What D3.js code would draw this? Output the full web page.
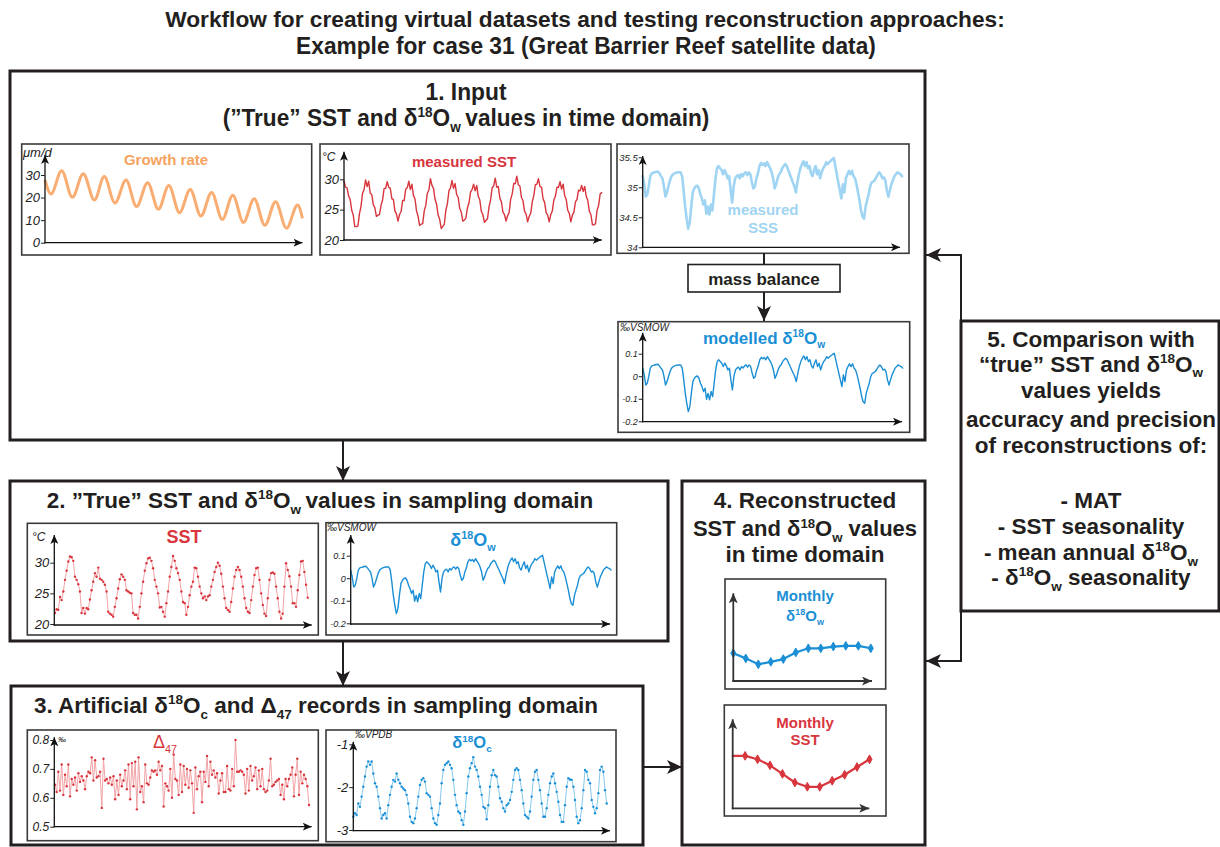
<!DOCTYPE html>
<html>
<head>
<meta charset="utf-8">
<script src="https://cdn.jsdelivr.net/npm/d3@7"></script>
<style>
  body { margin: 0; background: #fff; }
  svg { display: block; }
  text { font-family: "Liberation Sans", Arial, Helvetica, sans-serif; }
</style>
</head>
<body>
<div id="chart"></div>
<script>
// ---- data ----

// growth rate (um/d): extrema of the seasonal cycle, time in years
var growthTime = [0, 0.28, 0.78, 1.28, 1.79, 2.31, 2.77, 3.27, 3.79, 4.28, 4.80, 5.30, 5.79,
  6.29, 6.79, 7.29, 7.79, 8.29, 8.78, 9.28, 9.78, 10.28, 10.78, 11.29, 11.81, 12.04];
var growthRate = [27.8, 21.6, 31.9, 20.1, 30.6, 18.9, 29.3, 17.6, 27.8, 16.0, 26.6, 14.8, 25.3,
  13.3, 23.6, 11.8, 22.3, 10.3, 21.0, 9.0, 19.5, 7.7, 18.2, 6.4, 16.7, 10.8];
var growthTicks = [0, 10, 20, 30];

// measured SST (degC), time domain
var sstMeasured = [
  29.7, 28.7, 28.6, 27.2, 26.7, 24.9, 24.1, 22.2, 22.2, 22.3, 24.3, 25.5, 27.7, 28.3,
  29.9, 28.8, 29.7, 27.7, 27.5, 25.8, 25.3, 23.9, 24.1, 24.2, 25.7, 26.6, 28.5, 28.5,
  29.6, 28.7, 28.5, 26.8, 26.7, 24.8, 24.3, 23.1, 24.2, 24.7, 26.5, 26.5, 28.4, 28.6,
  29.7, 28.3, 29.2, 27.3, 26.8, 24.8, 23.9, 22.4, 22.6, 22.7, 24.8, 25.7, 27.7, 28.2,
  30.1, 29.0, 28.5, 26.7, 25.9, 24.1, 23.4, 21.9, 22.2, 22.6, 24.9, 26.0, 28.1, 28.6,
  29.8, 28.5, 29.3, 27.5, 27.0, 25.2, 24.6, 23.1, 23.3, 23.6, 25.3, 26.1, 27.9, 28.3,
  29.2, 28.1, 29.0, 27.2, 26.6, 24.7, 24.2, 22.9, 23.2, 23.5, 25.5, 26.6, 28.6, 28.9,
  30.2, 28.7, 28.8, 26.9, 26.3, 24.6, 24.2, 23.1, 24.0, 24.5, 26.7, 27.6, 29.3, 29.3,
  30.5, 29.1, 28.9, 27.0, 26.5, 24.7, 24.3, 23.0, 23.9, 24.4, 26.3, 27.3, 29.1, 29.2,
  30.1, 28.8, 28.7, 26.8, 26.2, 24.5, 24.1, 23.0, 24.2, 24.8, 26.6, 27.2, 28.7, 28.7,
  29.6, 28.4, 29.2, 27.3, 26.7, 24.9, 24.4, 23.0, 24.1, 24.6, 26.3, 26.7, 28.2, 28.1,
  29.0, 28.0, 28.8, 27.2, 26.5, 24.7, 24.2, 22.5, 22.5, 22.7, 24.9, 25.7, 27.6, 27.8];
var sstTicks = [20, 25, 30];

// modelled d18Ow (permil VSMOW)
var d18OwValues = [
  0.036, 0.006, -0.039, -0.031, -0.001, 0.036, 0.046, 0.048, 0.050, 0.052, 0.053, 0.046, 0.036,
  0.028, -0.001, -0.039, -0.024, -0.001, 0.021, 0.036, 0.042, 0.046, 0.048, 0.050, 0.050, 0.050,
  0.036, -0.016, -0.076, -0.120, -0.157, -0.135, -0.076, -0.024, -0.009, -0.001, 0.001, -0.009,
  -0.031, -0.046, -0.068, -0.053, -0.102, -0.076, -0.105, -0.068, -0.090, -0.031, 0.028, 0.065,
  0.073, 0.065, 0.058, 0.043, 0.058, 0.046, 0.028, 0.036, -0.016, -0.061, -0.001, 0.028, 0.036,
  0.040, 0.028, 0.043, 0.036, 0.046, 0.050, 0.040, 0.050, 0.043, 0.013, -0.009, -0.001, 0.028,
  0.046, 0.073, 0.084, 0.077, 0.083, 0.073, 0.087, 0.076, 0.065, 0.050, 0.028, -0.009, 0.006,
  0.028, 0.043, 0.050, 0.065, 0.073, 0.080, 0.073, 0.058, 0.043, 0.028, 0.013, -0.001, -0.024,
  0.013, 0.043, 0.065, 0.080, 0.090, 0.073, 0.087, 0.065, 0.073, 0.046, 0.036, 0.058, 0.073,
  0.043, 0.058, 0.028, 0.050, 0.065, 0.073, 0.087, 0.080, 0.087, 0.092, 0.098, 0.102, 0.073,
  0.043, 0.013, -0.016, -0.046, 0.006, -0.024, 0.028, 0.043, 0.055, 0.043, 0.055, 0.036, 0.028,
  0.006, -0.024, -0.053, -0.090, -0.113, -0.120, -0.076, -0.053, -0.031, -0.001, 0.013, 0.016,
  0.021, 0.031, 0.043, 0.050, 0.043, 0.028, 0.031, 0.021, -0.016, -0.039, -0.016, 0.006, 0.021,
  0.036, 0.043, 0.050, 0.046, 0.043, 0.036];
var d18OwTicks = [-0.2, -0.1, 0, 0.1];

// mass balance link between SSS and d18Ow (permil per psu)
var massBalanceSlope = 0.22;
var massBalanceOffset = -0.005;
var sssValues = d18OwValues.map(function (d) { return 35 + (d - massBalanceOffset) / massBalanceSlope; });
var sssTicks = [34, 34.5, 35, 35.5];

// "true" SST in sampling domain (degC)
var sstSampled = [21.8, 22.4, 22.3, 24.4, 23.9, 25.3, 27.2, 28.7, 30.2, 31.0, 30.9, 30.3, 27.7,
  27.2, 26.5, 25.3, 21.8, 22.6, 21.7, 22.6, 22.4, 24.0, 25.5, 26.9, 28.3, 27.7, 29.2, 27.4, 27.2,
  26.9, 26.4, 25.3, 22.0, 21.7, 21.5, 21.2, 22.8, 24.2, 25.8, 27.3, 28.1, 27.7, 27.2, 25.5, 25.3,
  25.1, 25.0, 21.8, 21.5, 21.5, 20.9, 22.8, 25.0, 26.9, 28.7, 29.9, 30.7, 30.8, 30.3, 29.1, 27.2,
  26.1, 25.0, 22.7, 22.8, 22.0, 21.2, 23.4, 25.3, 27.7, 29.3, 31.1, 30.3, 29.1, 28.3, 27.2, 25.3,
  23.6, 23.4, 21.5, 22.8, 24.7, 26.1, 26.9, 29.2, 29.1, 27.7, 26.1, 25.0, 24.2, 24.5, 23.9, 24.5,
  24.7, 26.1, 27.2, 28.5, 29.3, 30.0, 29.5, 28.2, 26.1, 24.2, 22.6, 22.3, 22.0, 23.6, 25.8, 27.7,
  28.8, 29.3, 28.8, 27.7, 26.1, 24.2, 22.6, 22.0, 21.8, 23.9, 26.1, 28.0, 29.1, 29.2, 27.2, 25.0,
  23.1, 21.7, 21.3, 24.2, 27.2, 28.3, 28.4, 28.2, 26.1, 24.2, 22.0, 20.9, 21.7, 26.1, 29.9, 28.8,
  27.8, 26.1, 23.4, 23.4, 22.8, 25.5, 28.0, 30.2, 30.3, 28.5, 26.4, 24.3];

// artificial clumped isotope record (permil)
var d47Values = [0.645, 0.62, 0.69, 0.625, 0.715, 0.61, 0.68, 0.64, 0.715, 0.605, 0.665, 0.645,
  0.67, 0.625, 0.685, 0.655, 0.675, 0.66, 0.63, 0.675, 0.69, 0.685, 0.74, 0.66, 0.73, 0.67, 0.675,
  0.69, 0.565, 0.735, 0.66, 0.665, 0.65, 0.67, 0.645, 0.675, 0.595, 0.66, 0.61, 0.68, 0.64, 0.66,
  0.695, 0.63, 0.715, 0.595, 0.72, 0.64, 0.725, 0.56, 0.74, 0.62, 0.64, 0.585, 0.715, 0.65, 0.645,
  0.67, 0.695, 0.69, 0.695, 0.68, 0.725, 0.695, 0.71, 0.57, 0.65, 0.64, 0.625, 0.70, 0.60, 0.75,
  0.665, 0.66, 0.61, 0.715, 0.62, 0.71, 0.645, 0.70, 0.635, 0.695, 0.65, 0.548, 0.705, 0.63, 0.675,
  0.69, 0.585, 0.69, 0.655, 0.745, 0.64, 0.725, 0.68, 0.695, 0.67, 0.685, 0.615, 0.66, 0.685,
  0.62, 0.62, 0.71, 0.63, 0.625, 0.70, 0.64, 0.80, 0.69, 0.69, 0.695, 0.69, 0.68, 0.615, 0.70,
  0.625, 0.71, 0.66, 0.675, 0.705, 0.63, 0.695, 0.64, 0.70, 0.63, 0.62, 0.625, 0.66, 0.735, 0.64,
  0.645, 0.655, 0.66, 0.665, 0.61, 0.645, 0.595, 0.665, 0.64, 0.665, 0.68, 0.705, 0.605, 0.68,
  0.735, 0.61, 0.69, 0.65, 0.68, 0.665, 0.64, 0.575];
var d47Ticks = [0.5, 0.6, 0.7, 0.8];

// artificial d18Oc record (permil VPDB)
var d18OcValues = [-2.69, -2.61, -2.65, -2.38, -2.46, -2.22, -1.99, -1.75, -1.52, -1.40, -1.48,
  -1.40, -1.68, -1.91, -1.99, -2.22, -2.49, -2.73, -2.65, -2.61, -2.73, -2.42, -2.18, -1.99, -1.83,
  -1.87, -1.68, -1.83, -1.91, -1.99, -2.03, -2.07, -2.18, -2.38, -2.69, -2.81, -2.84, -2.73, -2.49,
  -2.22, -1.95, -1.83, -1.79, -1.87, -2.14, -2.18, -2.22, -2.49, -2.73, -2.84, -2.88, -2.65, -2.38,
  -1.91, -1.60, -1.48, -1.44, -1.40, -1.48, -1.56, -1.83, -2.18, -2.42, -2.57, -2.61, -2.77, -2.88,
  -2.57, -2.14, -1.75, -1.56, -1.44, -1.30, -1.52, -1.60, -1.75, -1.99, -2.18, -2.46, -2.49, -2.75,
  -2.42, -1.99, -1.72, -1.60, -1.72, -1.75, -1.99, -2.26, -2.34, -2.49, -2.57, -2.42, -2.38, -2.30,
  -2.11, -1.83, -1.60, -1.56, -1.60, -1.83, -2.07, -2.38, -2.65, -2.69, -2.73, -2.57, -2.22, -1.83,
  -1.64, -1.60, -1.83, -2.07, -2.38, -2.69, -2.69, -2.49, -2.18, -1.91, -1.75, -1.68, -1.91, -2.11,
  -2.34, -2.65, -2.81, -2.81, -2.42, -1.99, -1.79, -1.82, -1.83, -1.99, -2.30, -2.69, -2.84, -2.77,
  -2.49, -2.07, -1.60, -1.64, -1.83, -1.91, -2.30, -2.46, -2.61, -2.49, -2.14, -1.60, -1.52, -1.64,
  -2.07, -2.38];
var d18OcTicks = [-3, -2, -1];

// reconstructed monthly values
var monthlyD18Ow = [-0.070, -0.085, -0.102, -0.095, -0.087, -0.068, -0.056, -0.056, -0.051, -0.049, -0.049, -0.056];
var monthlySST = [26.1, 26.1, 25.7, 25.0, 24.0, 23.0, 22.5, 22.5, 23.2, 23.9, 24.8, 25.7];

// ---- drawing ----
var W = 1220, H = 847;
var ink = "#231f20";
var orange = "#f9ad72", red = "#d8353d", pink = "#f2a3a6", skyBlue = "#9fd4f2",
    blue = "#1b8fd5", paleBlue = "#86c8ee";
var narrow = "'Liberation Sans Narrow', 'Arial Narrow', 'DejaVu Sans Condensed', 'Liberation Sans', sans-serif";

var svg = d3.select("#chart").append("svg").attr("width", W).attr("height", H);
var defs = svg.append("defs");

function addMarker(id, w, h, color) {
  defs.append("marker").attr("id", id)
    .attr("viewBox", "0 0 10 10").attr("refX", 10).attr("refY", 5)
    .attr("markerUnits", "userSpaceOnUse")
    .attr("markerWidth", w).attr("markerHeight", h)
    .attr("preserveAspectRatio", "none")
    .attr("orient", "auto")
    .append("path").attr("d", "M0,0L10,5L0,10L2.5,5Z").attr("fill", color);
}
addMarker("arrowS", 9, 8, "#111");
addMarker("arrowM", 10, 9, "#333");
addMarker("arrowL", 15, 14, ink);

// text with super/subscripts; optional horizontal fit to a width
function rich(g, x, y, parts, o) {
  var fs = o.size;
  var t = g.append("text").attr("x", x).attr("y", y)
    .attr("font-size", fs)
    .attr("font-weight", o.weight || "bold")
    .attr("font-style", o.style || "normal")
    .attr("fill", o.fill || ink)
    .attr("text-anchor", o.anchor || "middle");
  if (o.family) t.attr("font-family", o.family);
  var shift = 0;
  parts.forEach(function (p) {
    var s, dy, size = fs;
    if (typeof p === "string") { s = p; dy = -shift; shift = 0; }
    else if (p.sup !== undefined) { s = p.sup; dy = -fs * 0.38 - shift; shift = -fs * 0.38; size = fs * 0.6; }
    else { s = p.sub; dy = fs * 0.26 - shift; shift = fs * 0.26; size = fs * 0.6; }
    var ts = t.append("tspan").text(s).attr("font-size", size);
    if (dy) ts.attr("dy", dy);
  });
  if (o.width) {
    var len = t.node().getComputedTextLength();
    var k = o.width / len;
    t.attr("transform", "translate(" + x + "," + y + ") scale(" + k + ",1) translate(" + (-x) + "," + (-y) + ")");
  }
  return t;
}

function box(x, y, w, h, sw) {
  svg.append("rect").attr("x", x).attr("y", y).attr("width", w).attr("height", h)
    .attr("fill", "none").attr("stroke", ink).attr("stroke-width", sw || 3);
}

function arrowLine(x1, y1, x2, y2) {
  svg.append("line").attr("x1", x1).attr("y1", y1).attr("x2", x2).attr("y2", y2)
    .attr("stroke", ink).attr("stroke-width", 2).attr("marker-end", "url(#arrowL)");
}

// panel frame + axes; data drawn by callback between frame and axes
function panel(p, drawData) {
  var g = svg.append("g");
  g.append("rect").attr("x", p.left).attr("y", p.top).attr("width", p.w).attr("height", p.h)
    .attr("fill", "#fff").attr("stroke", "#3a3a3a").attr("stroke-width", 1.6);
  if (drawData) drawData(g);
  var aw = p.axisW || 1.3, mk = p.mk || "arrowS", col = p.axisCol || "#111";
  g.append("line").attr("x1", p.ox).attr("y1", p.oy + aw / 2).attr("x2", p.ox).attr("y2", p.yTip)
    .attr("stroke", col).attr("stroke-width", aw).attr("marker-end", "url(#" + mk + ")");
  g.append("line").attr("x1", p.ox - aw / 2).attr("y1", p.oy).attr("x2", p.xTip).attr("y2", p.oy)
    .attr("stroke", col).attr("stroke-width", aw).attr("marker-end", "url(#" + mk + ")");
  if (p.y && p.ticks) {
    var ax = d3.axisLeft(p.y).tickValues(p.ticks).tickSize(4).tickPadding(1)
      .tickFormat(p.fmt || function (d) { return String(d); });
    var a = g.append("g").attr("transform", "translate(" + p.ox + ",0)").call(ax);
    a.select(".domain").remove();
    a.selectAll("line").attr("stroke", "#222").attr("stroke-width", 1);
    a.selectAll("text").attr("font-size", p.tickFont).attr("font-style", "italic")
      .attr("fill", "#222").attr("font-family", "'Liberation Sans', Arial, sans-serif");
  }
  if (p.unit) {
    g.append("text").attr("x", p.unit[0]).attr("y", p.unit[1]).text(p.unit[2])
      .attr("font-size", p.unit[3]).attr("font-style", "italic").attr("fill", "#222");
  }
  return g;
}

function linePath(g, data, x, y, color, width, curve) {
  g.append("path").datum(data)
    .attr("d", d3.line().x(function (d, i) { return x(i); }).y(function (d) { return y(d); }).curve(curve || d3.curveLinear))
    .attr("fill", "none").attr("stroke", color).attr("stroke-width", width)
    .attr("stroke-linejoin", "round").attr("stroke-linecap", "round");
}

function dots(g, data, x, y, color, r) {
  g.selectAll(null).data(data).enter().append("circle")
    .attr("cx", function (d, i) { return x(i); }).attr("cy", function (d) { return y(d); })
    .attr("r", r).attr("fill", color);
}

// ---- title ----
rich(svg, 585, 27, ["Workflow for creating virtual datasets and testing reconstruction approaches:"], { size: 23, width: 840, family: narrow });
rich(svg, 586, 54, ["Example for case 31 (Great Barrier Reef satellite data)"], { size: 23, width: 580, family: narrow });

// ---- box 1 ----
box(10, 71, 915, 369);
rich(svg, 466, 100, ["1. Input"], { size: 23, width: 81, family: narrow });
rich(svg, 466, 126, ["(\u201DTrue\u201D SST and \u03B4", { sup: "18" }, "O", { sub: "w" }, "\u2009values in time domain)"], { size: 23, width: 487, family: narrow });

// growth rate
(function () {
  var p = { left: 21.7, top: 144, w: 290, h: 111, ox: 45, oy: 242.7, xTip: 302.5, yTip: 155 };
  p.y = d3.scaleLinear().domain([0, 30]).range([242.7, 175]);
  p.ticks = growthTicks; p.tickFont = 13;
  p.unit = [23, 157, "\u03BCm/d", 13];
  var x = d3.scaleLinear().domain([0, d3.max(growthTime)]).range([45, 302.5]);
  panel(p, function (g) {
    g.append("path").datum(growthRate)
      .attr("d", d3.line().x(function (d, i) { return x(growthTime[i]); }).y(function (d) { return p.y(d); }).curve(d3.curveMonotoneX))
      .attr("fill", "none").attr("stroke", orange).attr("stroke-width", 3);
    rich(g, 166, 165, ["Growth rate"], { size: 15, fill: "#f7a360" });
  });
})();

// measured SST
(function () {
  var p = { left: 320, top: 144, w: 291, h: 111, ox: 344, oy: 240, xTip: 601.7, yTip: 151.7 };
  p.y = d3.scaleLinear().domain([20, 30]).range([240, 179.3]);
  p.ticks = sstTicks; p.tickFont = 13;
  p.unit = [322, 161, "\u00B0C", 12];
  var x = d3.scaleLinear().domain([0, sstMeasured.length - 1]).range([344, 601.7]);
  panel(p, function (g) {
    linePath(g, sstMeasured, x, p.y, red, 1.4);
    rich(g, 464, 167, ["measured SST"], { size: 15, fill: red });
  });
})();

// measured SSS
(function () {
  var p = { left: 617, top: 144, w: 292, h: 109.3, ox: 642.7, oy: 247.3, xTip: 900, yTip: 156 };
  p.y = d3.scaleLinear().domain([34, 35.5]).range([247.3, 157.3]);
  p.ticks = sssTicks; p.tickFont = 9.5;
  var x = d3.scaleLinear().domain([0, sssValues.length - 1]).range([642.7, 902]);
  panel(p, function (g) {
    linePath(g, sssValues, x, p.y, skyBlue, 2.6);
    rich(g, 763, 215, ["measured"], { size: 15, fill: skyBlue });
    rich(g, 763, 233, ["SSS"], { size: 15, fill: skyBlue });
  });
})();

// mass balance
svg.append("line").attr("x1", 764).attr("y1", 253).attr("x2", 764).attr("y2", 265)
  .attr("stroke", ink).attr("stroke-width", 2);
svg.append("rect").attr("x", 688).attr("y", 264.5).attr("width", 152).attr("height", 27.5)
  .attr("fill", "#fff").attr("stroke", ink).attr("stroke-width", 1.6);
rich(svg, 764, 285, ["mass balance"], { size: 17 });
arrowLine(764, 292, 764, 321);

// modelled d18Ow
(function () {
  var p = { left: 618, top: 321.7, w: 291.7, h: 110.6, ox: 642.7, oy: 421.7, xTip: 902, yTip: 332.7 };
  p.y = d3.scaleLinear().domain([-0.2, 0.1]).range([421.3, 353.7]);
  p.ticks = d18OwTicks; p.tickFont = 9;
  p.unit = [620, 331, "\u2030VSMOW", 10];
  var x = d3.scaleLinear().domain([0, d18OwValues.length - 1]).range([642.7, 902.7]);
  panel(p, function (g) {
    linePath(g, d18OwValues, x, p.y, blue, 1.4);
    rich(g, 764, 343.5, ["modelled \u03B4", { sup: "18" }, "O", { sub: "w" }], { size: 17, fill: blue });
  });
})();

// ---- box 2 ----
arrowLine(343, 440, 343, 481);
box(10, 481, 658, 160);
rich(svg, 320, 508, ["2. \u201DTrue\u201D SST and \u03B4", { sup: "18" }, "O", { sub: "w" }, "\u2009values in sampling domain"], { size: 22.5 });

(function () {
  var p = { left: 27.3, top: 523.3, w: 291, h: 111.7, ox: 54.3, oy: 625, xTip: 311.7, yTip: 535 };
  p.y = d3.scaleLinear().domain([20, 30]).range([624, 562.7]);
  p.ticks = sstTicks; p.tickFont = 13;
  p.unit = [32, 541, "\u00B0C", 12];
  var x = d3.scaleLinear().domain([0, sstSampled.length - 1]).range([55, 307.7]);
  panel(p, function (g) {
    linePath(g, sstSampled, x, p.y, pink, 1);
    dots(g, sstSampled, x, p.y, red, 1.2);
    rich(g, 184, 543, ["SST"], { size: 18, fill: red });
  });
})();

(function () {
  var p = { left: 326, top: 522.7, w: 290.7, h: 112.3, ox: 350.7, oy: 624, xTip: 610, yTip: 535 };
  p.y = d3.scaleLinear().domain([-0.2, 0.1]).range([623.3, 555.7]);
  p.ticks = d18OwTicks; p.tickFont = 9;
  p.unit = [327, 531, "\u2030VSMOW", 10];
  var x = d3.scaleLinear().domain([0, d18OwValues.length - 1]).range([350.7, 611]);
  panel(p, function (g) {
    linePath(g, d18OwValues, x, p.y, blue, 1.4);
    rich(g, 473, 546, ["\u03B4", { sup: "18" }, "O", { sub: "w" }], { size: 18, fill: blue });
  });
})();

// ---- box 3 ----
arrowLine(343, 641, 343, 686);
box(11, 686, 632, 159);
rich(svg, 316, 713, ["3. Artificial \u03B4", { sup: "18" }, "O", { sub: "c" }, " and \u0394", { sub: "47" }, " records in sampling domain"], { size: 22.5 });

(function () {
  var p = { left: 27.3, top: 730, w: 291, h: 110.7, ox: 54.3, oy: 826.7, xTip: 311.7, yTip: 737.3 };
  p.y = d3.scaleLinear().domain([0.5, 0.8]).range([826.7, 740]);
  p.ticks = d47Ticks; p.tickFont = 12;
  p.fmt = d3.format(".1f");
  p.unit = [58, 742, "\u2030", 8];
  var x = d3.scaleLinear().domain([0, d47Values.length - 1]).range([55, 309]);
  panel(p, function (g) {
    linePath(g, d47Values, x, p.y, pink, 1);
    dots(g, d47Values, x, p.y, red, 1.2);
    rich(g, 153, 748, ["\u0394", { sub: "47" }], { size: 18, weight: "normal", fill: red, anchor: "start" });
  });
})();

(function () {
  var p = { left: 326, top: 730, w: 290, h: 111.7, ox: 353.3, oy: 830.7, xTip: 610, yTip: 741.7 };
  p.y = d3.scaleLinear().domain([-3, -1]).range([830, 744.3]);
  p.ticks = d18OcTicks; p.tickFont = 13;
  p.unit = [355, 738, "\u2030VPDB", 10];
  var x = d3.scaleLinear().domain([0, d18OcValues.length - 1]).range([353.3, 606.7]);
  panel(p, function (g) {
    linePath(g, d18OcValues, x, p.y, paleBlue, 1);
    dots(g, d18OcValues, x, p.y, blue, 1.2);
    rich(g, 472, 748, ["\u03B4", { sup: "18" }, "O", { sub: "c" }], { size: 16.5, fill: blue });
  });
})();

// ---- box 4 ----
arrowLine(643, 767, 682, 767);
box(682, 481, 243, 364);
rich(svg, 805, 508, ["4. Reconstructed"], { size: 22.5 });
rich(svg, 805, 536, ["SST and \u03B4", { sup: "18" }, "O", { sub: "w" }, " values"], { size: 22 });
rich(svg, 805, 562, ["in time domain"], { size: 22.5 });

(function () {
  var p = { left: 725, top: 579, w: 160.7, h: 110, ox: 733.3, oy: 681, xTip: 872, yTip: 593.3, axisW: 1.8, mk: "arrowM", axisCol: "#333" };
  var y = d3.scaleLinear().domain([-0.15, 0.1]).range([681, 594]);
  var x = d3.scaleLinear().domain([0, 11]).range([733.3, 870.8]);
  panel(p, function (g) {
    linePath(g, monthlyD18Ow, x, y, blue, 2.2);
    g.selectAll(null).data(monthlyD18Ow).enter().append("path")
      .attr("d", d3.symbol(d3.symbolDiamond, 22))
      .attr("transform", function (d, i) { return "translate(" + x(i) + "," + y(d) + ")"; })
      .attr("fill", blue).attr("stroke", blue).attr("stroke-width", 1);
    rich(g, 805, 601, ["Monthly"], { size: 15, fill: blue });
    rich(g, 805, 621, ["\u03B4", { sup: "18" }, "O", { sub: "w" }], { size: 15, fill: blue });
  });
})();

(function () {
  var p = { left: 724.3, top: 705, w: 161.7, h: 111, ox: 732.7, oy: 808.3, xTip: 869.3, yTip: 719.3, axisW: 1.8, mk: "arrowM", axisCol: "#333" };
  var y = d3.scaleLinear().domain([20, 30]).range([808.3, 722.3]);
  var x = d3.scaleLinear().domain([0, 11]).range([732.7, 869.5]);
  panel(p, function (g) {
    linePath(g, monthlySST, x, y, red, 2.2);
    g.selectAll(null).data(monthlySST.slice(1)).enter().append("path")
      .attr("d", d3.symbol(d3.symbolDiamond, 22))
      .attr("transform", function (d, i) { return "translate(" + x(i + 1) + "," + y(d) + ")"; })
      .attr("fill", red).attr("stroke", red).attr("stroke-width", 1);
    rich(g, 805, 728, ["Monthly"], { size: 15, fill: red });
    rich(g, 805, 745, ["SST"], { size: 15, fill: red });
  });
})();

// ---- box 5 and feedback arrows ----
svg.append("line").attr("x1", 961).attr("y1", 254).attr("x2", 961).attr("y2", 662)
  .attr("stroke", ink).attr("stroke-width", 2);
arrowLine(962, 255, 926, 255);
arrowLine(962, 661, 926, 661);
svg.append("rect").attr("x", 961).attr("y", 321).attr("width", 258).attr("height", 290)
  .attr("fill", "#fff").attr("stroke", ink).attr("stroke-width", 3);

var b5 = [
  [["5. Comparison with"], 346.5],
  [["\u201Ctrue\u201D SST and \u03B4", { sup: "18" }, "O", { sub: "w" }], 371.5],
  [["values yields"], 398],
  [["accuracy and precision"], 426.5],
  [["of reconstructions of:"], 453],
  [["- MAT"], 508],
  [["- SST seasonality"], 534],
  [["- mean annual \u03B4", { sup: "18" }, "O", { sub: "w" }], 560],
  [["- \u03B4", { sup: "18" }, "O", { sub: "w" }, " seasonality"], 585]
];
b5.forEach(function (l) { rich(svg, 1091, l[1], l[0], { size: 22.5 }); });
</script>
</body>
</html>
